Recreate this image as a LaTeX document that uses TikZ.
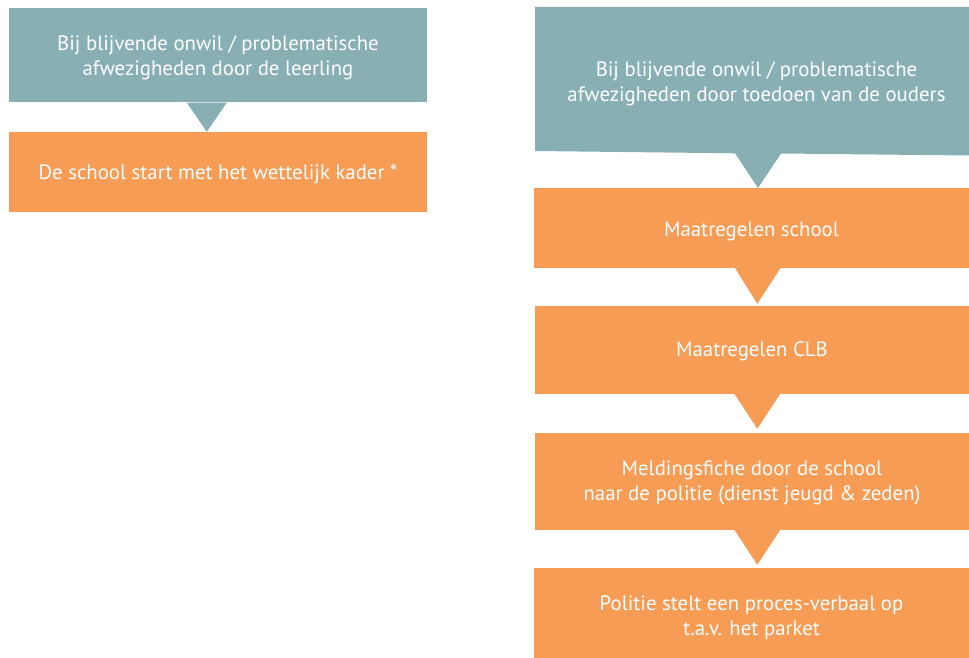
\documentclass[tikz,border=0pt]{standalone}
\usepackage{fontspec}
\setmainfont{PT Sans}
\usetikzlibrary{calc}
\definecolor{tealbox}{HTML}{88AFB3}
\definecolor{orangebox}{HTML}{F79C55}
\begin{document}
\begin{tikzpicture}[x=1pt,y=-1pt,
  txt/.style={text=white,font=\fontsize{20.8}{25}\selectfont,align=center,inner sep=0pt},
  obox/.style={fill=orangebox,inner sep=0pt,minimum width=435pt},
  lbox/.style={inner sep=0pt,minimum width=418pt}]
\useasboundingbox (0,0) rectangle (969,658);
% left column
\node[lbox,fill=tealbox,minimum height=94pt] (l1) at (218,55) {};
\node[txt] (l1t) at (218,58) {Bij blijvende onwil / problematische\\afwezigheden door de leerling};
\node[lbox,fill=orangebox,minimum height=80pt] (l2) at (218,172) {};
\node[txt] (l2t) at (218,174) {De school start met het wettelijk kader *};
\fill[tealbox] ($(l1.south west)+(178,0.5)$) -- ($(l1.south west)+(218,0.5)$) -- ($(l2.north west)+(198,0)$) -- cycle;
% right column
\coordinate (rtl) at (535,7);
\coordinate (rtr) at (969,7);
\coordinate (rbr) at (969,155.5);
\coordinate (rbl) at (535,151);
\coordinate (rtip) at (758,188);
\fill[tealbox] (rtl) -- (rtr) -- (rbr) -- (781,153.5) -- (rtip) -- (735,153.3) -- (rbl) -- cycle;
\node[txt] (r0t) at (756.5,84) {Bij blijvende onwil / problematische\\afwezigheden door toedoen van de ouders};
\node[obox,minimum height=80pt] (r1) at (751.5,228) {};
\node[txt] (r1t) at (751.5,231) {Maatregelen school};
\node[obox,minimum height=88pt] (r2) at (752,350) {};
\node[txt] (r2t) at (752,351) {Maatregelen CLB};
\node[obox,minimum height=97pt] (r3) at (752,481.5) {};
\node[txt] (r3t) at (752,483) {Meldingsfiche door de school\\naar de politie (dienst jeugd \& zeden)};
\node[obox,minimum height=90pt] (r4) at (751.5,613) {};
\node[txt] (r4t) at (751.5,618) {Politie stelt een proces-verbaal op\\t.a.v. het parket};
% pointers
\fill[orangebox] ($(r1.south west)+(201,-0.5)$) -- ($(r1.south west)+(247,-0.5)$) -- ($(r2.north west)+(223,-2)$) -- cycle;
\fill[orangebox] ($(r2.south west)+(200,-0.5)$) -- ($(r2.south west)+(246,-0.5)$) -- ($(r3.north west)+(223,-4)$) -- cycle;
\fill[orangebox] ($(r3.south west)+(200,-0.5)$) -- ($(r3.south west)+(246,-0.5)$) -- ($(r4.north west)+(223.5,-3)$) -- cycle;
\end{tikzpicture}
\end{document}
